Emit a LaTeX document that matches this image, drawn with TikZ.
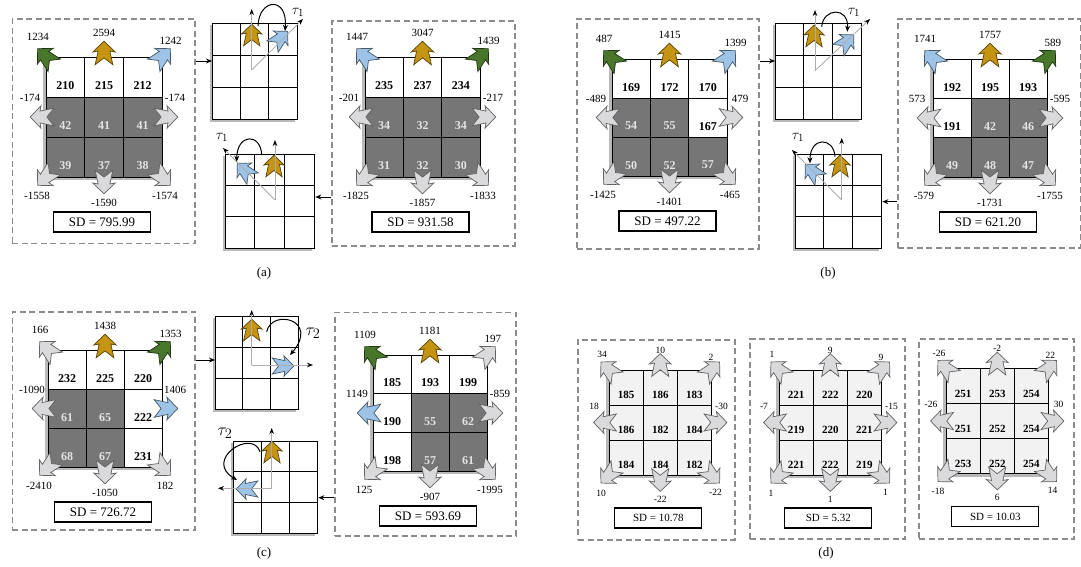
\documentclass[tikz,border=0pt]{standalone}
\usepackage{fontspec}
\setmainfont{Liberation Serif}
\usetikzlibrary{arrows.meta}
\definecolor{agold}{RGB}{196,148,18}
\definecolor{agreen}{RGB}{72,118,42}
\definecolor{ablue}{RGB}{157,195,230}
\definecolor{agray}{RGB}{218,218,220}
\definecolor{cellk}{RGB}{118,118,118}
\definecolor{celltk}{RGB}{228,228,228}
\definecolor{celld}{RGB}{242,242,242}
\definecolor{dashc}{RGB}{140,140,140}
\def\fillw{white}\def\textw{black}
\def\fillk{cellk}\def\textk{celltk}
\def\filld{celld}\def\textd{black}
\def\dirset#1#2#3#4#5#6#7#8{\def\fx{#1}\def\fy{#2}\def\ax{#3}\def\ay{#4}\def\ang{#5}\def\lx{#6}\def\ly{#7}\def\lan{#8}}
\expandafter\def\csname dir@m@tl\endcsname{\dirset{0}{0}{0}{0}{135}{-8}{-20}{center}}
\expandafter\def\csname dir@m@t\endcsname{\dirset{0.5}{0}{0}{-4}{90}{0}{-24}{center}}
\expandafter\def\csname dir@m@tr\endcsname{\dirset{1}{0}{0}{0}{45}{-2.5}{-16}{west}}
\expandafter\def\csname dir@m@l\endcsname{\dirset{0}{0.5}{-4}{0}{180}{-16}{-19}{center}}
\expandafter\def\csname dir@m@r\endcsname{\dirset{1}{0.5}{4}{0}{0}{13}{-19}{center}}
\expandafter\def\csname dir@m@bl\endcsname{\dirset{0}{1}{0}{0}{225}{-9}{19}{center}}
\expandafter\def\csname dir@m@b\endcsname{\dirset{0.5}{1}{0}{5}{270}{0}{26}{center}}
\expandafter\def\csname dir@m@br\endcsname{\dirset{1}{1}{0}{0}{315}{3}{19}{center}}
\expandafter\def\csname dir@d@tl\endcsname{\dirset{0}{0}{0}{0}{135}{-7}{-15.5}{center}}
\expandafter\def\csname dir@d@t\endcsname{\dirset{0.5}{0}{0}{-5}{90}{0}{-20}{center}}
\expandafter\def\csname dir@d@tr\endcsname{\dirset{1}{0}{0}{0}{45}{-3}{-13}{west}}
\expandafter\def\csname dir@d@l\endcsname{\dirset{0}{0.5}{-4}{0}{180}{-15}{-16.5}{center}}
\expandafter\def\csname dir@d@r\endcsname{\dirset{1}{0.5}{4}{0}{0}{10}{-16.5}{center}}
\expandafter\def\csname dir@d@bl\endcsname{\dirset{0}{1}{0}{0}{225}{-8}{18}{center}}
\expandafter\def\csname dir@d@b\endcsname{\dirset{0.5}{1}{0}{5}{270}{0}{24}{center}}
\expandafter\def\csname dir@d@br\endcsname{\dirset{1}{1}{0}{0}{315}{4}{17}{center}}
\expandafter\def\csname pmode-m\endcsname{\def\sdw{97}\def\cfont{\fontsize{12}{14}\selectfont\bfseries}\def\lfont{\fontsize{11}{13}\selectfont}\def\sfont{\fontsize{13}{15}\selectfont}\def\asc{0.98}\def\sdoff{45}}
\expandafter\def\csname pmode-d\endcsname{\def\sdw{87}\def\cfont{\fontsize{11}{13}\selectfont\bfseries}\def\lfont{\fontsize{9.5}{11}\selectfont}\def\sfont{\fontsize{11}{13}\selectfont}\def\asc{0.95}\def\sdoff{43}}
\tikzset{
 dbox/.style={draw=dashc, line width=1.5pt, dash pattern=on 6pt off 3.5pt, rectangle, inner sep=0pt, anchor=north west},
 cellbox/.style={draw=black, line width=0.8pt, rectangle, inner sep=0pt},
 celltxt/.style={inner sep=0pt},
 vlab/.style={inner sep=0pt},
 sdbox/.style={draw=black, line width=1.2pt, fill=white, rectangle, inner sep=0pt},
 blockarr/.style={line width=0.7pt, line join=miter},
 sgbox/.style={draw=black, line width=1.3pt, fill=white, rectangle, inner sep=0pt, anchor=north west},
 gridshadow/.style={fill=gray!55},
 conn/.style={draw=black, line width=1pt, -{Stealth[length=6pt,width=5pt]}},
 vec/.style={draw=gray!65, line width=0.8pt, -{Stealth[length=6pt,width=4.5pt,color=black]}},
 rot/.style={draw=black, line width=1pt, -{Stealth[length=6pt,width=5pt]}},
 tauone/.style={font=\fontsize{15}{17}\selectfont, inner sep=0pt},
 tautwo/.style={font=\fontsize{19}{21}\selectfont, inner sep=0pt},
 caption/.style={font=\fontsize{13}{15}\selectfont, inner sep=0pt},
}
\newcommand\blk[5]{%
 \filldraw[blockarr, fill=#4, draw=#4!45!black, shift={({#1},{#2})}, rotate=#3, scale=#5]
  (12,0) -- (1,11.5) -- (2,6) -- (-12,9) -- (-5,0) -- (-12,-9) -- (2,-6) -- (1,-11.5) -- cycle;}
\newcommand\panel[9]{%
 \csname pmode-#9\endcsname
 \pgfmathsetmacro\cw{#4/3}\pgfmathsetmacro\ch{#5/3}
 \fill[gridshadow] ({#2-3},{#3+2}) rectangle ({#2+#4-2},{#3+#5+3});
 \foreach \v/\s [count=\i from 0] in {#6}{
  \pgfmathtruncatemacro\cc{mod(\i,3)}
  \pgfmathtruncatemacro\rr{floor(\i/3)}
  \edef\cf{\csname fill\s\endcsname}
  \node[cellbox, fill=\cf, minimum width=\cw pt, minimum height=\ch pt] (#1-c\i) at ({#2+(\cc+0.5)*\cw},{#3+(\rr+0.5)*\ch}) {};
 }
 \foreach \v/\s [count=\i from 0] in {#6}{
  \pgfmathtruncatemacro\cc{mod(\i,3)}
  \pgfmathtruncatemacro\rr{floor(\i/3)}
  \edef\ct{\csname text\s\endcsname}
  \node[celltxt, font=\cfont, text=\ct] (#1-n\i) at ({#2+(\cc+0.5)*\cw},{#3+(\rr+0.72)*\ch}) {\v};
 }
 \foreach \d/\col/\lab in {#7}{
  \csname dir@#9@\d\endcsname
  \blk{#2+\fx*#4+\ax}{#3+\fy*#5+\ay}{\ang}{\col}{\asc}
  \node[vlab, font=\lfont, anchor=\lan] (#1-\d) at ({#2+\fx*#4+\lx},{#3+\fy*#5+\ly}) {\lab};
 }
 \node[sdbox, font=\sfont, minimum width=\sdw pt, minimum height=20pt] (#1-sd) at ({#2+#4/2-2},{#3+#5+\sdoff}) {#8};
}
\newcommand\sgrid[5]{%
 \fill[gridshadow] ({#2-2.5},{#3+2}) rectangle ({#2+#4-2},{#3+#5+2.5});
 \node[sgbox, minimum width=#4pt, minimum height=#5pt] (#1) at (#2,#3) {};
 \foreach \k in {1,2}{
  \draw[line width=1pt] ({#2+\k*#4/3},#3) -- ({#2+\k*#4/3},{#3+#5});
  \draw[line width=1pt] (#2,{#3+\k*#5/3}) -- ({#2+#4},{#3+\k*#5/3});
 }}
\begin{document}
\begin{tikzpicture}[x=1pt,y=-1pt]
\useasboundingbox (0,0) rectangle (1081,566);
\fill[white] (0,0) rectangle (1081,566);
% dashed boxes
\node[dbox, minimum width=182.6pt, minimum height=224.4pt] (aL) at (11.7,18.3) {};
\node[dbox, minimum width=183pt, minimum height=225pt] (aR) at (331,20) {};
\node[dbox, minimum width=182pt, minimum height=230pt] (bL) at (576,18) {};
\node[dbox, minimum width=182.5pt, minimum height=229pt] (bR) at (897,18) {};
\node[dbox, minimum width=182.6pt, minimum height=218pt] (cL) at (11.7,311) {};
\node[dbox, minimum width=180.7pt, minimum height=223.3pt] (cR) at (334.3,311.7) {};
\node[dbox, minimum width=156.7pt, minimum height=200pt] (dA) at (577.3,339) {};
\node[dbox, minimum width=154.7pt, minimum height=200pt] (dB) at (749.3,338.3) {};
\node[dbox, minimum width=155pt, minimum height=200pt] (dC) at (918.3,338.3) {};
% main panels
\panel{paL}{46}{57}{116}{120}{210/w,215/w,212/w,42/k,41/k,41/k,39/k,37/k,38/k}{tl/agreen/1234,t/agold/2594,tr/ablue/1242,l/agray/-174,r/agray/-174,bl/agray/-1558,b/agray/-1590,br/agray/-1574}{SD = 795.99}{m}
\panel{paR}{365}{57}{115}{120}{235/w,237/w,234/w,34/k,32/k,34/k,31/k,32/k,30/k}{tl/ablue/1447,t/agold/3047,tr/agreen/1439,l/agray/-201,r/agray/-217,bl/agray/-1825,b/agray/-1857,br/agray/-1833}{SD = 931.58}{m}
\panel{pbL}{612}{59}{115}{117}{169/w,172/w,170/w,54/k,55/k,167/w,50/k,52/k,57/k}{tl/agreen/487,t/agold/1415,tr/ablue/1399,l/agray/-489,r/agray/479,bl/agray/-1425,b/agray/-1401,br/agray/-465}{SD = 497.22}{m}
\panel{pbR}{933}{59}{114}{118}{192/w,195/w,193/w,191/w,42/k,46/k,49/k,48/k,47/k}{tl/ablue/1741,t/agold/1757,tr/agreen/589,l/agray/573,r/agray/-595,bl/agray/-579,b/agray/-1731,br/agray/-1755}{SD = 621.20}{m}
\panel{pcL}{48}{350}{114}{117}{232/w,225/w,220/w,61/k,65/k,222/w,68/k,67/k,231/w}{tl/agray/166,t/agold/1438,tr/agreen/1353,l/agray/-1090,r/ablue/1406,bl/agray/-2410,b/agray/-1050,br/agray/182}{SD = 726.72}{m}
\panel{pcR}{373}{355}{114}{116}{185/w,193/w,199/w,190/w,55/k,62/k,198/w,57/k,61/k}{tl/agreen/1109,t/agold/1181,tr/agray/197,l/ablue/1149,r/agray/-859,bl/agray/125,b/agray/-907,br/agray/-1995}{SD = 593.69}{m}
\panel{pd1}{609}{370}{102.5}{105}{185/d,186/d,183/d,186/d,182/d,184/d,184/d,184/d,182/d}{tl/agray/34,t/agray/10,tr/agray/2,l/agray/18,r/agray/-30,bl/agray/10,b/agray/-22,br/agray/-22}{SD = 10.78}{d}
\panel{pd2}{779}{370}{102.5}{105}{221/d,222/d,220/d,219/d,220/d,221/d,221/d,222/d,219/d}{tl/agray/1,t/agray/9,tr/agray/9,l/agray/-7,r/agray/-15,bl/agray/1,b/agray/1,br/agray/1}{SD = 5.32}{d}
\panel{pd3}{946}{368.5}{102.5}{105}{251/d,253/d,254/d,251/d,252/d,254/d,253/d,252/d,254/d}{tl/agray/-26,t/agray/-2,tr/agray/22,l/agray/-26,r/agray/30,bl/agray/-18,b/agray/6,br/agray/14}{SD = 10.03}{d}
% small grids
\sgrid{aS1}{212}{23}{85}{96}
\sgrid{aS2}{225}{154}{89}{94}
\sgrid{bS1}{775}{23}{86}{96}
\sgrid{bS2}{795}{154}{86}{94}
\sgrid{cS1}{215}{316}{83}{93}
\sgrid{cS2}{233}{441}{84}{92}
% connectors
\coordinate (ya1) at (0,61); \coordinate (ya2) at (0,197);
\coordinate (yb1) at (0,61); \coordinate (yb2) at (0,201.7);
\coordinate (yc1) at (0,360); \coordinate (yc2) at (0,497.7);
\draw[conn] (aL.east |- ya1) -- (aS1.west |- ya1);
\draw[conn] (aR.west |- ya2) -- (aS2.east |- ya2);
\draw[conn] (bL.east |- yb1) -- (bS1.west |- yb1);
\draw[conn] (bR.west |- yb2) -- (bS2.east |- yb2);
\draw[conn] (cL.east |- yc1) -- (cS1.west |- yc1);
\draw[conn] (cR.west |- yc2) -- (cS2.east |- yc2);
% (a) small grid 1
\blk{251.7}{35}{90}{agold}{0.9}
\blk{280}{39}{45}{ablue}{0.9}
\coordinate (aO1) at (251.7,70); \coordinate (aV1) at (251.7,9); \coordinate (aD1) at (303,19);
\draw[vec] (aO1) -- (aV1); \draw[vec] (aO1) -- (aD1);
\coordinate (aR1s) at (258,26); \coordinate (aR1e) at (285,31);
\draw[rot] (aR1s) .. controls (259,-2) and (288,-4) .. (aR1e);
\node[tauone] (aT1) at (298,12) {$\tau_1$};
% (a) small grid 2
\blk{274}{166}{90}{agold}{0.9}
\blk{245}{171}{135}{ablue}{0.9}
\coordinate (aO2) at (275,200); \coordinate (aV2) at (275,140); \coordinate (aD2) at (223,148);
\draw[vec] (aO2) -- (aV2); \draw[vec] (aO2) -- (aD2);
\coordinate (aR2s) at (261.7,155); \coordinate (aR2e) at (236.7,161.7);
\draw[rot] (aR2s) .. controls (261,133) and (237,133) .. (aR2e);
\node[tauone] (aT2) at (222,137) {$\tau_1$};
% (b) small grid 1
\blk{814}{36}{90}{agold}{0.9}
\blk{846}{42.5}{45}{ablue}{0.9}
\coordinate (bO1) at (815,70.7); \coordinate (bV1) at (815,10); \coordinate (bD1) at (870,19);
\draw[vec] (bO1) -- (bV1); \draw[vec] (bO1) -- (bD1);
\coordinate (bR1s) at (821.7,26.7); \coordinate (bR1e) at (847.3,31.7);
\draw[rot] (bR1s) .. controls (823,8) and (849,6) .. (bR1e);
\node[tauone] (bT1) at (854,12) {$\tau_1$};
% (b) small grid 2
\blk{840}{166}{90}{agold}{0.9}
\blk{813}{172}{135}{ablue}{0.9}
\coordinate (bO2) at (841.7,200); \coordinate (bV2) at (841.7,138); \coordinate (bD2) at (792,150);
\draw[vec] (bO2) -- (bV2); \draw[vec] (bO2) -- (bD2);
\coordinate (bR2s) at (835,156.7); \coordinate (bR2e) at (810,163.3);
\draw[rot] (bR2s) .. controls (834,137) and (810,136) .. (bR2e);
\node[tauone] (bT2) at (798,137) {$\tau_1$};
% (c) small grid 1
\blk{251.7}{330}{90}{agold}{0.9}
\blk{283}{366}{0}{ablue}{0.9}
\coordinate (cO1) at (251.7,365); \coordinate (cV1) at (251.7,310); \coordinate (cH1) at (313,365);
\draw[vec] (cO1) -- (cV1); \draw[vec] (cO1) -- (cH1);
\coordinate (cR1s) at (266.7,331.7); \coordinate (cR1e) at (290,355);
\draw[rot] (cR1s) .. controls (272,308) and (320,320) .. (cR1e);
\node[tautwo] (cT1) at (313,333) {$\tau_2$};
% (c) small grid 2
\blk{272}{452}{90}{agold}{0.9}
\blk{247}{489}{180}{ablue}{0.9}
\coordinate (cO2) at (271.7,488.3); \coordinate (cV2) at (271.7,428); \coordinate (cH2) at (218,488.3);
\draw[vec] (cO2) -- (cV2); \draw[vec] (cO2) -- (cH2);
\coordinate (cR2s) at (260,451.7); \coordinate (cR2e) at (237,480);
\draw[rot] (cR2s) .. controls (252,428) and (203,460) .. (cR2e);
\node[tautwo] (cT2) at (225,433) {$\tau_2$};
% captions
\node[caption] (capa) at (264,273) {(a)};
\node[caption] (capb) at (828,273) {(b)};
\node[caption] (capc) at (264,553) {(c)};
\node[caption] (capd) at (826,553) {(d)};
\end{tikzpicture}
\end{document}
